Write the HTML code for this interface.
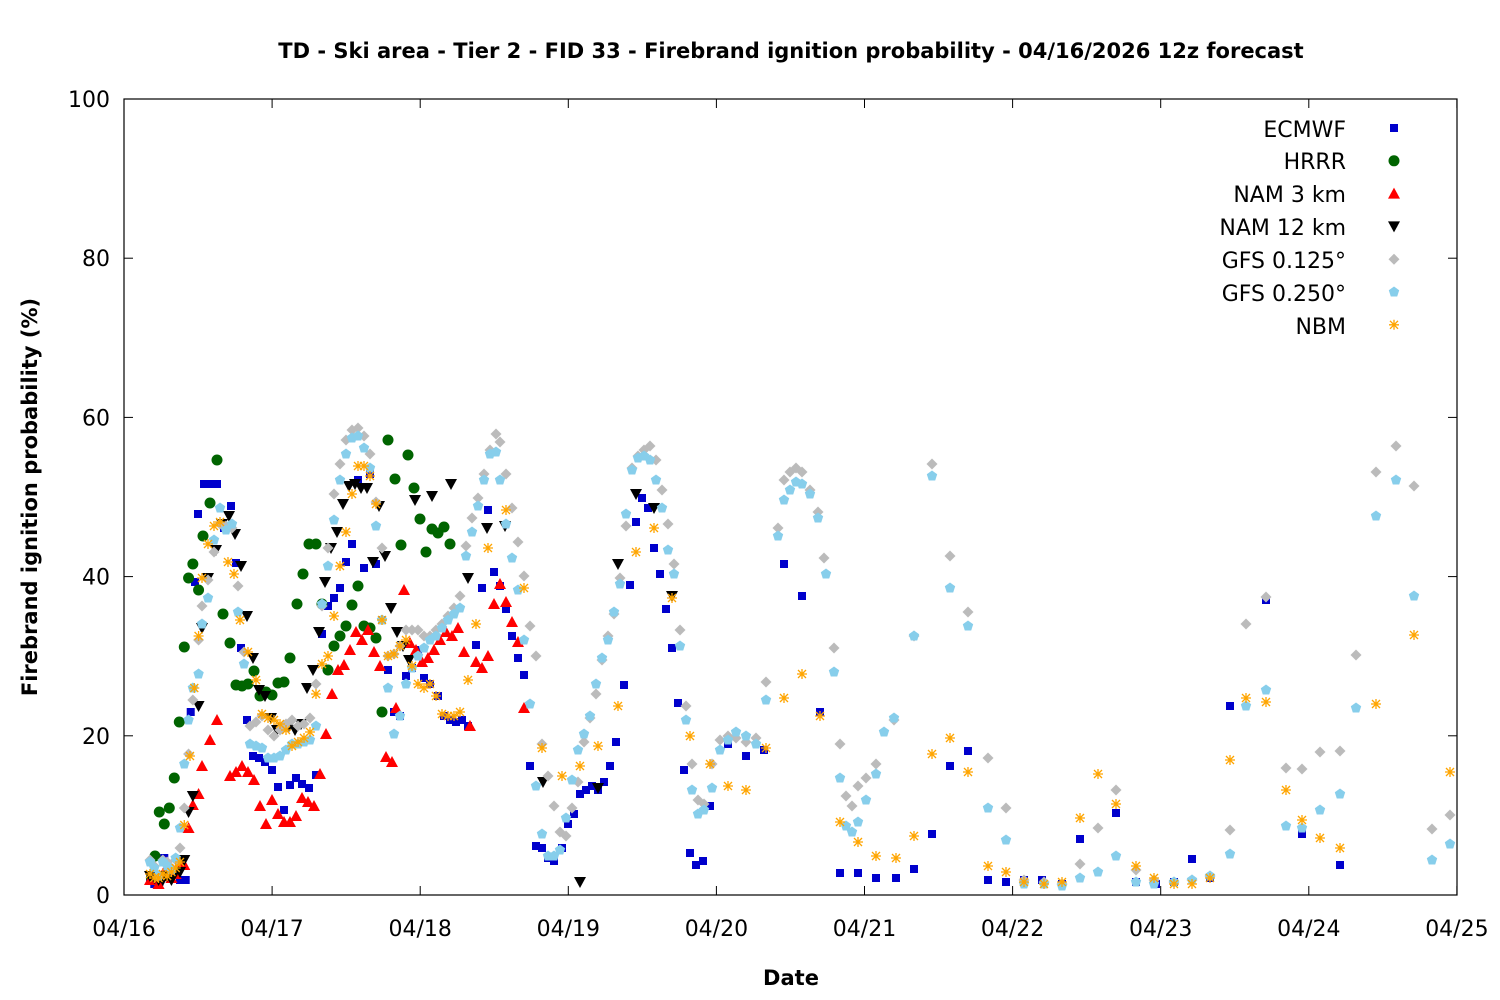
<!DOCTYPE html>
<html><head><meta charset="utf-8"><style>
body{margin:0;background:#fff}
svg{display:block}
text{font-family:"DejaVu Sans","Liberation Sans",sans-serif;fill:#000}
</style></head><body>
<svg id="s" width="1500" height="1000" xmlns="http://www.w3.org/2000/svg">
<rect x="0" y="0" width="1500" height="1000" fill="#fff"/>
<text x="791" y="58" text-anchor="middle" font-size="21" font-weight="bold">TD - Ski area - Tier 2 - FID 33 - Firebrand ignition probability - 04/16/2026 12z forecast</text>
<g id="ax"></g>
<g id="pts"></g>
<rect x="124" y="99" width="1333" height="796" fill="none" stroke="#000" stroke-width="1.2"/>
<text x="791" y="985" text-anchor="middle" font-size="21" font-weight="bold">Date</text>
<text transform="translate(37,497) rotate(-90)" text-anchor="middle" font-size="21" font-weight="bold">Firebrand ignition probability (%)</text>
<g font-size="22" text-anchor="end">
<text x="1346" y="137">ECMWF</text>
<text x="1346" y="169">HRRR</text>
<text x="1346" y="202">NAM 3 km</text>
<text x="1346" y="235">NAM 12 km</text>
<text x="1346" y="268">GFS 0.125°</text>
<text x="1346" y="301">GFS 0.250°</text>
<text x="1346" y="334">NBM</text>
</g>
<g id="leg"></g>
</svg>
<script>
const NS="http://www.w3.org/2000/svg";
function el(p,t,a,txt){const e=document.createElementNS(NS,t);for(const k in a)e.setAttribute(k,a[k]);if(txt!==undefined)e.textContent=txt;p.appendChild(e);return e;}
const ax=document.getElementById('ax');
for(let i=0;i<=5;i++){const y=895-i*159.2;
el(ax,'line',{x1:124,x2:133,y1:y,y2:y,stroke:'#000'});el(ax,'line',{x1:1448,x2:1457,y1:y,y2:y,stroke:'#000'});
el(ax,'text',{x:110,y:y+8,'text-anchor':'end','font-size':22},String(i*20));}
const days=['04/16','04/17','04/18','04/19','04/20','04/21','04/22','04/23','04/24','04/25'];
for(let i=0;i<10;i++){const x=124+i*148.1;
el(ax,'line',{x1:x,x2:x,y1:895,y2:886,stroke:'#000'});el(ax,'line',{x1:x,x2:x,y1:99,y2:108,stroke:'#000'});
el(ax,'text',{x:x,y:936,'text-anchor':'middle','font-size':22},days[i]);}
function P(s){const a=s.trim().split(/\s+/).map(Number);const r=[];for(let i=0;i<a.length;i+=2){let x=a[i];if(x<198)x=150+(x-128)*50/70;r.push([x,a[i+1]]);}return r;}
const mk={
sq:(g,x,y)=>el(g,'rect',{x:x-4,y:y-4,width:8,height:8,fill:'#0000cc'}),
ci:(g,x,y)=>el(g,'circle',{cx:x,cy:y,r:5.5,fill:'#006400'}),
tu:(g,x,y)=>el(g,'polygon',{points:`${x},${y-6} ${x+6},${y+5} ${x-6},${y+5}`,fill:'#ff0000'}),
td:(g,x,y)=>el(g,'polygon',{points:`${x},${y+6} ${x+6},${y-5} ${x-6},${y-5}`,fill:'#000'}),
di:(g,x,y)=>el(g,'polygon',{points:`${x},${y-5.5} ${x+5.5},${y} ${x},${y+5.5} ${x-5.5},${y}`,fill:'#bbbbbb'}),
hx:(g,x,y)=>el(g,'polygon',{points:`${x},${y-5.5} ${x+5.2},${y-1.7} ${x+3.2},${y+4.5} ${x-3.2},${y+4.5} ${x-5.2},${y-1.7}`,fill:'#87ceeb'}),
as:(g,x,y)=>el(g,'path',{d:`M${x-5} ${y}H${x+5}M${x} ${y-5}V${y+5}M${x-4} ${y-4}L${x+4} ${y+4}M${x-4} ${y+4}L${x+4} ${y-4}`,stroke:'#ffa500','stroke-width':1.3,fill:'none'})};
const D={
sq:P(`128 880 134 884 141 882 148 858 155 868 162 870 170 880 178 880 185 712 191 582 198 514 204 484 211 484 217 484 224 528 231 506 236 563 241 648 247 720 253 756 259 758 265 762 272 770 278 787 284 810 290 785 296 778 302 784 309 788 316 775 322 634 328 606 334 598 340 588 346 562 352 544 358 480 364 568 370 474 376 564 382 620 388 670 394 712 400 716 406 676 412 668 418 650 424 678 430 684 438 696 444 716 450 720 456 722 462 720 468 726 476 645 482 588 488 510 494 572 500 586 506 609 512 636 518 658 524 675 530 766 536 846 542 848 548 858 554 861 562 848 568 824 574 814 580 794 586 790 592 786 598 790 604 782 610 766 616 742 624 685 630 585 636 522 642 498 648 508 654 548 660 574 666 609 672 648 678 703 684 770 690 853 696 865 703 861 710 806 728 744 746 756 764 750 784 564 802 596 820 712 840 873 858 873 876 878 896 878 914 869 932 834 950 766 968 751 988 880 1006 882 1024 880 1042 880 1062 884 1080 839 1116 813 1136 882 1156 884 1174 882 1192 859 1210 878 1230 706 1266 600 1302 834 1340 865`),
ci:P(`130 878 135 856 141 812 148 824 155 808 162 778 169 722 176 647 182 578 188 564 196 590 203 536 210 503 217 460 223 614 230 643 236 685 242 686 248 684 254 671 260 696 266 692 272 695 278 683 284 682 290 658 297 604 303 574 309 544 316 544 322 604 328 670 334 646 340 636 346 626 352 605 358 586 364 626 370 628 376 638 382 712 388 440 395 479 401 545 408 455 414 488 420 519 426 552 432 529 438 533 444 527 450 544`),
tu:P(`128 880 134 878 140 884 146 876 152 866 158 878 164 874 170 862 176 865 182 828 188 805 196 794 202 766 210 740 217 720 230 776 236 772 242 766 248 772 254 780 260 806 266 824 272 800 278 814 284 822 290 822 296 816 302 798 308 802 314 806 320 774 326 734 332 694 338 670 344 665 350 650 356 632 362 640 368 630 374 652 380 666 386 757 392 762 396 708 404 590 410 643 416 650 422 662 428 658 434 650 440 640 446 632 452 636 458 628 464 652 470 726 476 662 482 668 488 656 494 604 500 584 506 602 512 622 518 642 524 708`),
td:P(`128 876 134 878 140 880 146 880 152 876 158 880 164 872 170 872 176 860 182 812 188 796 196 706 202 628 208 578 216 550 222 524 229 516 235 534 241 566 247 616 253 658 259 690 265 696 271 718 277 730 283 728 289 726 295 730 301 724 307 688 313 670 319 632 325 582 331 548 337 532 343 504 349 486 355 484 361 488 367 488 373 562 379 506 385 556 391 608 397 632 403 646 409 660 415 500 432 496 451 484 468 578 487 528 505 526 543 782 580 882 598 788 618 564 636 494 654 508 672 596`),
di:P(`128 860 134 866 140 876 146 860 152 862 158 868 164 860 170 848 176 808 182 754 188 700 196 640 202 606 208 580 214 552 220 524 226 526 232 528 238 586 244 652 250 726 256 722 262 716 268 730 274 736 280 730 286 724 292 720 298 726 304 724 310 718 316 684 322 606 328 548 334 494 340 464 346 440 352 430 358 428 364 436 370 454 376 502 382 548 388 656 394 654 400 646 406 630 412 630 418 630 424 636 430 636 436 630 442 624 448 616 454 608 460 596 466 546 472 518 478 498 484 474 490 450 496 434 500 442 506 474 512 508 518 542 524 576 530 626 536 656 542 744 548 776 554 806 560 832 566 836 572 808 578 782 584 742 590 718 596 694 602 660 608 636 614 614 620 578 626 526 632 468 638 456 644 450 650 446 656 460 662 490 668 524 674 564 680 630 686 706 692 764 698 800 704 804 712 764 720 740 728 736 736 738 746 742 756 738 766 682 778 528 784 480 790 472 796 468 802 472 810 490 818 512 824 558 834 648 840 744 846 796 852 806 858 786 866 778 876 764 894 720 914 636 932 464 950 556 968 612 988 758 1006 808 1024 880 1044 882 1062 884 1080 864 1098 828 1116 790 1136 870 1154 880 1174 882 1192 880 1210 876 1230 830 1246 624 1266 597 1286 768 1302 769 1320 752 1340 751 1356 655 1376 472 1396 446 1414 486 1432 829 1450 815`),
hx:P(`128 862 134 868 140 876 146 862 152 866 158 870 164 858 170 828 176 764 182 720 188 688 196 674 202 624 208 598 214 540 220 508 226 530 232 524 238 612 244 664 250 744 256 746 262 748 268 758 274 758 280 756 286 750 292 744 298 744 304 742 310 740 316 726 322 604 328 566 334 520 340 480 346 454 352 438 358 436 364 448 370 468 376 526 382 620 388 688 394 734 400 716 406 684 412 668 418 656 424 648 430 640 436 636 442 628 448 620 454 614 460 608 466 556 472 532 478 506 484 480 490 454 496 452 500 480 506 524 512 558 518 590 524 640 530 704 536 786 542 834 548 856 554 856 560 850 566 818 572 780 578 750 584 734 590 716 596 684 602 658 608 640 614 612 620 584 626 514 632 470 638 458 644 456 650 460 656 480 662 508 668 550 674 574 680 646 686 720 692 790 698 814 704 810 712 788 720 750 728 740 736 732 746 736 756 744 766 700 778 536 784 500 790 490 796 482 802 484 810 494 818 518 826 574 834 672 840 778 846 826 852 832 858 822 866 800 876 774 884 732 894 718 914 636 932 476 950 588 968 626 988 808 1006 840 1024 884 1044 884 1062 886 1080 878 1098 872 1116 856 1136 882 1154 884 1174 882 1192 880 1210 876 1230 854 1246 706 1266 690 1286 826 1302 828 1320 810 1340 794 1356 708 1376 516 1396 480 1414 596 1432 860 1450 844`),
as:P(`128 874 134 878 140 878 146 874 152 876 158 872 164 868 170 862 176 825 184 756 190 688 196 636 202 578 208 544 214 526 220 522 228 562 234 574 240 620 248 652 256 680 262 714 268 718 274 720 280 724 286 730 292 746 298 742 304 738 310 732 316 694 322 664 328 656 334 616 340 566 346 532 352 494 358 466 364 466 370 476 376 504 382 620 388 656 394 654 400 646 406 640 412 666 418 684 424 688 430 684 436 696 442 714 448 716 454 716 460 712 468 680 476 624 488 548 506 510 524 588 542 748 562 776 580 766 598 746 618 706 636 552 654 528 672 598 690 736 710 764 728 786 746 790 766 748 784 698 802 674 820 716 840 822 858 842 876 856 896 858 914 836 932 754 950 738 968 772 988 866 1006 872 1024 882 1044 884 1062 882 1080 818 1098 774 1116 804 1136 866 1154 878 1174 884 1192 884 1210 878 1230 760 1246 698 1266 702 1286 790 1302 820 1320 838 1340 848 1376 704 1414 635 1450 772`)};
const g=document.getElementById('pts');
for(const k of ['sq','ci','tu','td','di','hx','as'])for(const [x,y] of D[k])mk[k](g,x,y);
const lg=document.getElementById('leg');
['sq','ci','tu','td','di','hx','as'].forEach((k,i)=>mk[k](lg,1394,128+i*32.8));
</script>
</body></html>
